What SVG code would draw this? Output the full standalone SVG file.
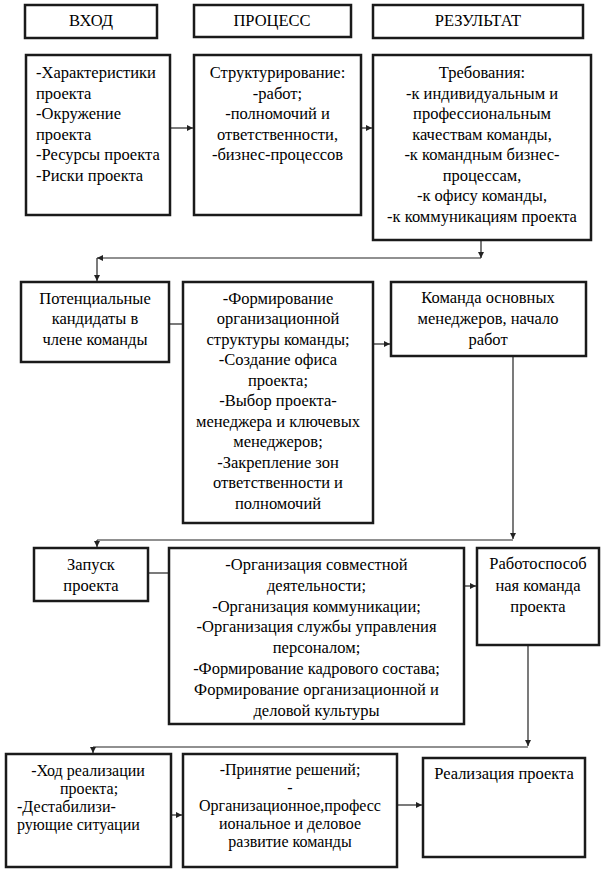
<svg xmlns="http://www.w3.org/2000/svg" width="606" height="876" viewBox="0 0 606 876">
<defs>
<style>
.box{fill:#fff;stroke:#1a1a1a;stroke-width:2.5}
.t{font-family:"Liberation Serif","Times New Roman",serif;font-size:16.5px;fill:#000}
.s{font-size:16px}
.c{text-anchor:middle}
.con{fill:none;stroke:#222;stroke-width:1.2}
</style>
<marker id="ah" markerUnits="userSpaceOnUse" markerWidth="8" markerHeight="8" refX="6" refY="3" orient="auto">
<path d="M0,0 L6,3 L0,6 Z" fill="#222"/>
</marker>
</defs>
<rect width="606" height="876" fill="#fff"/>

<g id="connectors">
<path class="con" d="M170,128 H193" marker-end="url(#ah)"/>
<path class="con" d="M361,128 H372" marker-end="url(#ah)"/>
<path class="con" d="M481,240 V258" marker-end="url(#ah)"/>
<path class="con" d="M481,258 H97" marker-end="url(#ah)"/>
<path class="con" d="M97,258 V281" marker-end="url(#ah)"/>
<path class="con" d="M169,324 H183"/>
<path class="con" d="M373,344 H390" marker-end="url(#ah)"/>
<path class="con" d="M513,356 V539" marker-end="url(#ah)"/>
<path class="con" d="M513,540 H97"/>
<path class="con" d="M97,540 V547" marker-end="url(#ah)"/>
<path class="con" d="M148,573 H169"/>
<path class="con" d="M464,586 H476" marker-end="url(#ah)"/>
<path class="con" d="M528,645 V746" marker-end="url(#ah)"/>
<path class="con" d="M528,747 H93"/>
<path class="con" d="M93,747 V753" marker-end="url(#ah)"/>
<path class="con" d="M171,815 H182" marker-end="url(#ah)"/>
<path class="con" d="M397,805 H422" marker-end="url(#ah)"/>
</g>

<g id="h-vhod">
<rect class="box" x="25" y="5" width="132" height="33"/>
<text class="t c" x="91" y="26">ВХОД</text>
</g>
<g id="h-process">
<rect class="box" x="194" y="5" width="157" height="32"/>
<text class="t c" x="272" y="26">ПРОЦЕСС</text>
</g>
<g id="h-result">
<rect class="box" x="373" y="5" width="210" height="33"/>
<text class="t c" x="478" y="26">РЕЗУЛЬТАТ</text>
</g>

<g id="b1">
<rect class="box" x="26" y="55" width="144" height="160"/>
<text class="t" x="36" y="78">-Характеристики</text>
<text class="t" x="36" y="98.5">проекта</text>
<text class="t" x="36" y="119">-Окружение</text>
<text class="t" x="36" y="139.5">проекта</text>
<text class="t" x="36" y="160">-Ресурсы проекта</text>
<text class="t" x="36" y="180.5">-Риски проекта</text>
</g>

<g id="b2">
<rect class="box" x="194" y="55" width="167" height="160"/>
<text class="t c" x="277.5" y="78">Структурирование:</text>
<text class="t c" x="277.5" y="98.5">-работ;</text>
<text class="t c" x="277.5" y="119">-полномочий и</text>
<text class="t c" x="277.5" y="139.5">ответственности,</text>
<text class="t c" x="277.5" y="160">-бизнес-процессов</text>
</g>

<g id="b3">
<rect class="box" x="373" y="55" width="218" height="185"/>
<text class="t c" x="482" y="78">Требования:</text>
<text class="t c" x="482" y="98.5">-к индивидуальным и</text>
<text class="t c" x="482" y="119">профессиональным</text>
<text class="t c" x="482" y="139.5">качествам команды,</text>
<text class="t c" x="482" y="160">-к командным бизнес-</text>
<text class="t c" x="482" y="180.5">процессам,</text>
<text class="t c" x="482" y="201">-к офису команды,</text>
<text class="t c" x="482" y="221.5">-к коммуникациям проекта</text>
</g>

<g id="b4">
<rect class="box" x="21" y="282" width="148" height="80"/>
<text class="t c" x="95" y="303.5">Потенциальные</text>
<text class="t c" x="95" y="324">кандидаты в</text>
<text class="t c" x="95" y="344.5">члене команды</text>
</g>

<g id="b5">
<rect class="box" x="183" y="282" width="190" height="241"/>
<text class="t c" x="278" y="303.5">-Формирование</text>
<text class="t c" x="278" y="324">организационной</text>
<text class="t c" x="278" y="344.5">структуры команды;</text>
<text class="t c" x="278" y="365">-Создание офиса</text>
<text class="t c" x="278" y="385.5">проекта;</text>
<text class="t c" x="278" y="406">-Выбор проекта-</text>
<text class="t c" x="278" y="426.5">менеджера и ключевых</text>
<text class="t c" x="278" y="447">менеджеров;</text>
<text class="t c" x="278" y="467.5">-Закрепление зон</text>
<text class="t c" x="278" y="488">ответственности и</text>
<text class="t c" x="278" y="508.5">полномочий</text>
</g>

<g id="b6">
<rect class="box" x="391" y="282" width="195" height="74"/>
<text class="t c" x="488" y="302.5">Команда основных</text>
<text class="t c" x="488" y="323.5">менеджеров, начало</text>
<text class="t c" x="488" y="344.5">работ</text>
</g>

<g id="b7">
<rect class="box" x="34" y="548" width="114" height="53"/>
<text class="t c" x="91" y="570">Запуск</text>
<text class="t c" x="91" y="590.5">проекта</text>
</g>

<g id="b8">
<rect class="box" x="169" y="548" width="295" height="176"/>
<text class="t c" x="316.5" y="570">-Организация совместной</text>
<text class="t c" x="316.5" y="590.5">деятельности;</text>
<text class="t c" x="316.5" y="611.5">-Организация коммуникации;</text>
<text class="t c" x="316.5" y="632">-Организация службы управления</text>
<text class="t c" x="316.5" y="653">персоналом;</text>
<text class="t c" x="316.5" y="673.5">-Формирование кадрового состава;</text>
<text class="t c" x="316.5" y="694.5">Формирование организационной и</text>
<text class="t c" x="316.5" y="715.5">деловой культуры</text>
</g>

<g id="b9">
<rect class="box" x="477" y="548" width="122" height="97"/>
<text class="t c" x="538" y="569">Работоспособ</text>
<text class="t c" x="538" y="590.5">ная команда</text>
<text class="t c" x="538" y="611.5">проекта</text>
</g>

<g id="b10">
<rect class="box" x="6" y="754" width="165" height="113"/>
<text class="t s c" x="88" y="776">-Ход реализации</text>
<text class="t s c" x="89" y="794">проекта;</text>
<text class="t s" x="17" y="812">-Дестабилизи-</text>
<text class="t s" x="17" y="830">рующие ситуации</text>
</g>

<g id="b11">
<rect class="box" x="183" y="754" width="214" height="113"/>
<text class="t s c" x="290" y="775">-Принятие решений;</text>
<text class="t s c" x="290" y="793">-</text>
<text class="t s c" x="290" y="811">Организационное,професс</text>
<text class="t s c" x="290" y="829">иональное и деловое</text>
<text class="t s c" x="290" y="847">развитие команды</text>
</g>

<g id="b12">
<rect class="box" x="423" y="758" width="162" height="99"/>
<text class="t c" x="504" y="778.5">Реализация проекта</text>
</g>
</svg>
